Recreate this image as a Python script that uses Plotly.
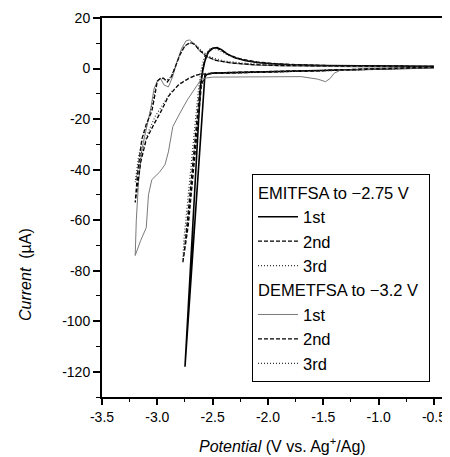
import plotly.graph_objects as go

# ---------------- data ----------------
# EMITFSA to -2.75 V
emit1_x = [-0.5, -0.8, -1.2, -1.6, -2.0, -2.3, -2.5, -2.57, -2.6, -2.65, -2.70, -2.75,
           -2.70, -2.66, -2.63, -2.61, -2.59, -2.57, -2.54, -2.50, -2.46, -2.42, -2.37,
           -2.30, -2.20, -2.10, -2.00, -1.80, -1.50, -1.00, -0.50]
emit1_y = [0.3, 0.0, -0.4, -0.8, -1.2, -1.5, -1.8, -2.5, -21, -53.5, -86, -118,
           -78, -46, -22, -7, -1, 3, 6.5, 8.0, 8.3, 7.5, 5.8,
           4.3, 3.1, 2.4, 2.0, 1.5, 1.2, 1.0, 0.9]

emit2_x = [-0.5, -1.0, -1.5, -2.0, -2.4, -2.55, -2.60, -2.64, -2.68, -2.72, -2.77,
           -2.75, -2.71, -2.66, -2.62, -2.59, -2.56, -2.52, -2.47, -2.42, -2.35,
           -2.25, -2.10, -1.90, -1.50, -1.00, -0.50]
emit2_y = [0.5, 0.0, -0.8, -1.3, -1.7, -2.0, -6, -25, -45, -62, -77,
           -70, -52, -30, -10, 0, 5, 7.8, 8.2, 7.2, 5.3,
           3.8, 2.6, 1.8, 1.2, 1.0, 0.8]

emit3_x = [-0.5, -1.0, -1.5, -2.0, -2.4, -2.55, -2.61, -2.65, -2.69, -2.73, -2.77,
           -2.76, -2.72, -2.67, -2.63, -2.60, -2.57, -2.53, -2.48, -2.43, -2.36,
           -2.25, -2.10, -1.90, -1.50, -1.00, -0.50]
emit3_y = [0.4, -0.1, -0.9, -1.4, -1.8, -2.1, -8, -27, -47, -63, -76,
           -68, -50, -28, -9, 0.5, 5.2, 7.6, 8.0, 7.0, 5.2,
           3.7, 2.5, 1.7, 1.1, 0.9, 0.7]

# DEMETFSA to -3.2 V
demet1_x = [-0.5, -0.9, -1.2, -1.35, -1.40, -1.44, -1.48, -1.55, -1.70, -2.0, -2.3, -2.5,
            -2.60, -2.66, -2.73, -2.80, -2.86, -2.90, -2.93, -2.98, -3.05, -3.08, -3.09,
            -3.10, -3.15, -3.20,
            -3.19, -3.17, -3.14, -3.10, -3.06, -3.03, -3.00, -2.97, -2.94, -2.90, -2.86,
            -2.82, -2.78, -2.74, -2.71, -2.67, -2.62, -2.55, -2.45, -2.30, -2.10, -1.80,
            -1.50, -1.00, -0.50]
demet1_y = [0.2, 0.0, -0.5, -0.8, -1.8, -4.0, -5.2, -4.2, -3.2, -3.3, -3.4, -3.4,
            -4.0, -8.0, -12.5, -18, -23, -33, -38, -41, -44, -50, -58,
            -63, -68, -74,
            -60, -45, -32, -24, -16, -8, -5, -4, -6.5, -7.3, -3,
            3, 8, 11, 11.3, 10, 7, 4.5, 3, 2, 1.3, 1.0,
            0.8, 0.5, 0.3]

demet2_x = [-0.5, -1.0, -1.5, -2.0, -2.4, -2.60, -2.65, -2.72, -2.81, -2.90, -2.96, -3.03,
            -3.10, -3.15, -3.20,
            -3.18, -3.14, -3.10, -3.05, -3.02, -3.00, -2.97, -2.94, -2.91, -2.87, -2.83,
            -2.79, -2.75, -2.70, -2.66, -2.62, -2.56, -2.48, -2.35, -2.15, -1.90, -1.50,
            -1.00, -0.50]
demet2_y = [0.5, -0.2, -0.8, -1.2, -1.6, -2.2, -2.6, -4.0, -6.5, -11, -16.4, -22,
            -28, -37, -53,
            -42, -28, -22, -17, -10, -5, -3.8, -4.0, -5.3, -3, 1.5,
            6, 9, 10.3, 9.5, 7.3, 5, 3.3, 2.3, 1.6, 1.2, 1.0,
            0.8, 0.7]

demet3_x = [-0.5, -1.0, -1.5, -2.0, -2.4, -2.60, -2.70, -2.78, -2.88, -2.95, -3.02, -3.08,
            -3.14, -3.20,
            -3.17, -3.13, -3.08, -3.04, -3.01, -2.98, -2.95, -2.92, -2.88, -2.84, -2.80,
            -2.76, -2.71, -2.66, -2.60, -2.52, -2.40, -2.20, -1.90, -1.50, -1.00, -0.50]
demet3_y = [0.4, -0.3, -0.9, -1.3, -1.7, -2.0, -3.5, -5.5, -9.5, -14, -19, -25,
            -33, -45,
            -35, -27, -20, -13, -6, -4, -3.6, -4.8, -3.5, 0.5, 5,
            8.5, 10.2, 9.6, 7, 4.5, 3, 2, 1.4, 1.1, 0.8, 0.6]

x_tickvals = [-3.5, -3.0, -2.5, -2.0, -1.5, -1.0, -0.5]
x_ticktext = ["-3.5", "-3.0", "-2.5", "-2.0", "-1.5", "-1.0", "-0.5"]
y_tickvals = [20, 0, -20, -40, -60, -80, -100, -120]
y_ticktext = ["20", "0", "-20", "-40", "-60", "-80", "-100", "-120"]

FONT = "Liberation Sans, Arial, sans-serif"

# page body has an 8px margin: figure is sized so the plot lands where the reference has it
OFF = 8
W, H = 450 - OFF, 457 - OFF
L, T, B = 102 - OFF, 18 - OFF, 60
PW = W - L            # plot width  (px)
PH = H - T - B        # plot height (px)

fig = go.Figure()

def add(x, y, name, color, dash, width, group, title=None):
    kw = {}
    if title:
        kw["legendgrouptitle"] = dict(text=title, font=dict(size=16.5, color="black", family=FONT))
    fig.add_trace(go.Scatter(x=x, y=y, mode="lines", name=name, legendgroup=group,
                             line=dict(color=color, dash=dash, width=width), **kw))

add(emit1_x, emit1_y, "1st", "black", "solid", 1.6, "emit", "EMITFSA to \u22122.75 V")
add(emit2_x, emit2_y, "2nd", "black", "4px,2px", 1.3, "emit")
add(emit3_x, emit3_y, "3rd", "#333333", "1px,2px", 1.2, "emit")
add(demet1_x, demet1_y, "1st", "#7a7a7a", "solid", 1.0, "demet", "DEMETFSA to \u22123.2 V")
add(demet2_x, demet2_y, "2nd", "black", "4px,2px", 1.3, "demet")
add(demet3_x, demet3_y, "3rd", "#333333", "1px,2px", 1.2, "demet")

fig.update_layout(
    width=W, height=H,
    margin=dict(l=L, r=0, t=T, b=B),
    paper_bgcolor="white", plot_bgcolor="white",
    font=dict(family=FONT, size=14, color="black"),
    showlegend=True,
    legend=dict(x=(252 - 102) / PW, y=(397 - 174) / PH, xanchor="left", yanchor="top",
                bgcolor="white", bordercolor="black", borderwidth=1,
                font=dict(size=16.5, family=FONT, color="black"),
                traceorder="grouped", tracegroupgap=0, itemwidth=40),
    xaxis=dict(range=[-3.5, -0.355], showgrid=False, zeroline=False,
               showline=True, linecolor="black", linewidth=2, mirror=True,
               ticks="outside", ticklen=6, tickwidth=1.5, tickcolor="black",
               tickvals=x_tickvals, ticktext=x_ticktext,
               tickfont=dict(size=14, family=FONT),
               minor=dict(dtick=0.25, ticks="outside", ticklen=3, tickwidth=1.2, tickcolor="black")),
    yaxis=dict(range=[-130, 20], showgrid=False, zeroline=False,
               showline=True, linecolor="black", linewidth=2,
               ticks="outside", ticklen=7, tickwidth=1.5, tickcolor="black",
               tickvals=y_tickvals, ticktext=y_ticktext,
               tickfont=dict(size=14, family=FONT),
               minor=dict(dtick=10, ticks="outside", ticklen=4, tickwidth=1.2, tickcolor="black")),
    annotations=[
        dict(text="<i>Potential</i> (V vs. Ag<sup>+</sup>/Ag)", xref="paper", yref="paper",
             x=(282 - 102) / PW, y=-(445 - 397) / PH, xanchor="center", yanchor="middle",
             showarrow=False, font=dict(size=16, family=FONT, color="black")),
        dict(text="<i>Current</i>\u00a0\u00a0(\u00b5A)", xref="paper", yref="paper",
             x=-(102 - 25) / PW, y=(397 - 275) / PH, xanchor="center", yanchor="middle",
             textangle=-90, showarrow=False, font=dict(size=16, family=FONT, color="black")),
    ],
)

fig.write_html("out.html")
